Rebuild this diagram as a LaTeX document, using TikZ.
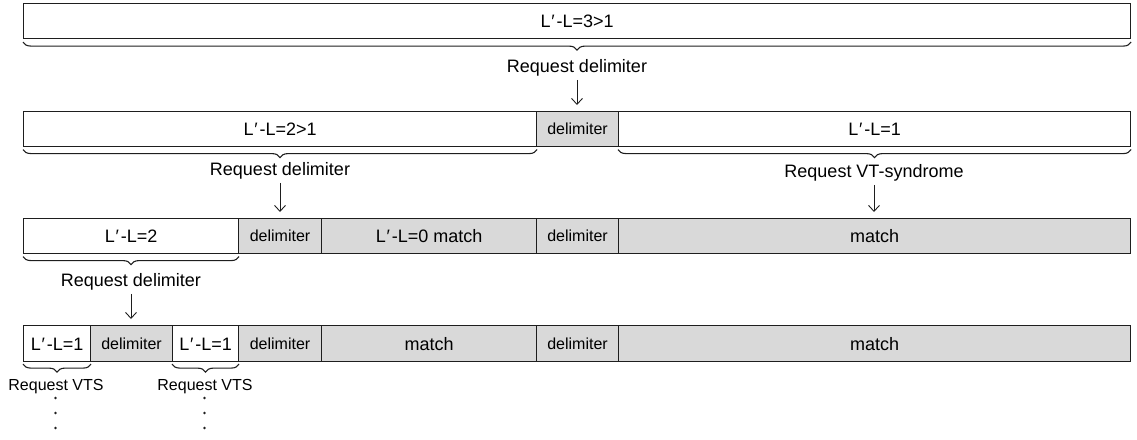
\documentclass[tikz,border=0pt]{standalone}
\usepackage{fontspec}
\setmainfont{Liberation Sans}
\usetikzlibrary{decorations.pathreplacing,arrows.meta}
\definecolor{boxgray}{RGB}{217,217,217}
\definecolor{lineblk}{RGB}{30,30,30}
\newcommand{\Lp}{L\kern0.8pt′\kern1.8pt-L}
\begin{document}
\begin{tikzpicture}[x=1pt,y=-1pt,
  seg/.style={draw=lineblk, line width=1.1pt, minimum height=35pt, inner sep=0pt,
    anchor=north west, text height=13pt, text depth=0pt,
    font=\fontsize{18}{20}\selectfont},
  wbox/.style={seg, fill=white},
  gbox/.style={seg, fill=boxgray},
  dbox/.style={seg, fill=boxgray, text height=11.5pt, font=\fontsize{16}{18}\selectfont},
  lbl/.style={inner sep=0pt, anchor=base, font=\fontsize{18}{20}\selectfont},
  slbl/.style={inner sep=0pt, anchor=base, font=\fontsize{16}{18}\selectfont},
  brc/.style={draw=lineblk, line width=1.1pt, decorate, decoration={brace, mirror, amplitude=8pt}},
  arr/.style={draw=lineblk, line width=0.9pt, -{Straight Barb[length=6pt,width=11pt]},
    shorten <=4pt, shorten >=6pt}
]
\useasboundingbox (0,0) rectangle (1137,439);

% Row 1
\node[wbox, minimum width=1107pt] (r1) at (23,3) {\Lp=3>1};

% Row 2
\node[wbox, minimum width=513pt] (r2a) at (23,111) {\Lp=2>1};
\node[dbox, minimum width=82pt]  (r2d) at (536,111) {delimiter};
\node[wbox, minimum width=512pt] (r2b) at (618,111) {\Lp=1};

% Row 3
\node[wbox, minimum width=215pt] (r3a) at (23,218) {\Lp=2};
\node[dbox, minimum width=83pt]  (r3d1) at (238,218) {delimiter};
\node[gbox, minimum width=215pt] (r3m1) at (321,218) {\Lp=0 match};
\node[dbox, minimum width=82pt]  (r3d2) at (536,218) {delimiter};
\node[gbox, minimum width=512pt] (r3m2) at (618,218) {match};

% Row 4
\node[wbox, minimum width=67pt, minimum height=36pt] (r4a) at (23,325) {\Lp=1};
\node[dbox, minimum width=82pt, minimum height=36pt] (r4d1) at (90,325) {delimiter};
\node[wbox, minimum width=66pt, minimum height=36pt] (r4b) at (172,325) {\Lp=1};
\node[dbox, minimum width=83pt, minimum height=36pt] (r4d2) at (238,325) {delimiter};
\node[gbox, minimum width=215pt, minimum height=36pt] (r4m1) at (321,325) {match};
\node[dbox, minimum width=82pt, minimum height=36pt] (r4d3) at (536,325) {delimiter};
\node[gbox, minimum width=512pt, minimum height=36pt] (r4m2) at (618,325) {match};

% Braces
\draw[brc] ([yshift=-3pt]r1.south west) -- ([yshift=-3pt]r1.south east);
\draw[brc] ([yshift=-2.5pt]r2a.south west) -- ([yshift=-2.5pt]r2a.south east);
\draw[brc] ([yshift=-2.5pt]r2b.south west) -- ([yshift=-2.5pt]r2b.south east);
\draw[brc] ([yshift=-2.5pt]r3a.south west) -- ([yshift=-2.5pt]r3a.south east);
\draw[brc] ([yshift=-2pt]r4a.south west) -- ([yshift=-2pt]r4a.south east);
\draw[brc] ([yshift=-2pt]r4b.south west) -- ([yshift=-2pt]r4b.south east);

% Labels
\node[lbl] (q1) at (577,72) {Request delimiter};
\node[lbl] (q2) at (280,175) {Request delimiter};
\node[lbl] (q3) at (874,177) {Request VT-syndrome};
\node[lbl] (q4) at (131,286) {Request delimiter};
\node[slbl] (q5) at (56,390) {Request VTS};
\node[slbl] (q6) at (205,390) {Request VTS};

% Arrows
\draw[arr] (q1.south) -- (q1.south |- r2d.north);
\draw[arr] (q2.south) -- (q2.south |- r3d1.north);
\draw[arr] (q3.south) -- (q3.south |- r3m2.north);
\draw[arr] (q4.south) -- (q4.south |- r4d1.north);

% Dots
\foreach \yy in {398,413,428} {
  \fill[lineblk] (55.5,\yy) circle (1.4pt);
  \fill[lineblk] (204.5,\yy) circle (1.4pt);
}
\end{tikzpicture}
\end{document}
